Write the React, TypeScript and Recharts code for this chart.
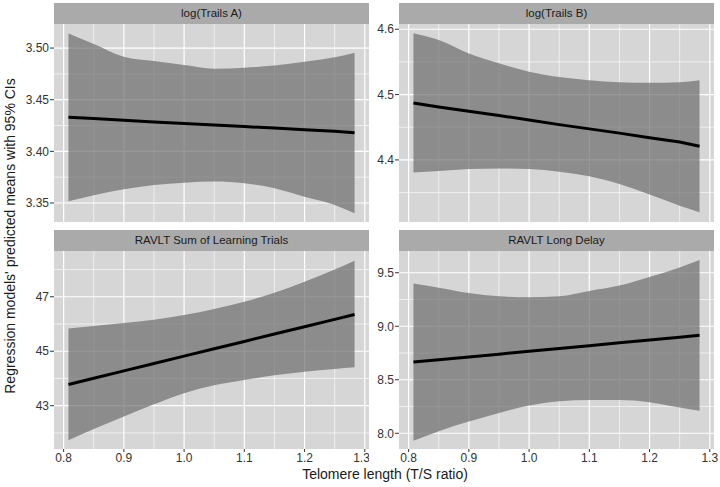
import React from "react";
import {
  ComposedChart,
  Area,
  Line,
  XAxis,
  YAxis,
  CartesianGrid,
} from "recharts";

// telomere length (T/S ratio) sample points along the fitted line
const telomere = [0.808, 0.85, 0.9, 0.95, 1.0, 1.05, 1.1, 1.15, 1.2, 1.25, 1.283];

const trailsAFit = [3.433, 3.4317, 3.430, 3.4285, 3.427, 3.4255, 3.424, 3.4225, 3.421, 3.4195, 3.418];
const trailsALow = [3.3517, 3.3575, 3.3633, 3.3675, 3.3697, 3.3707, 3.369, 3.3643, 3.356, 3.348, 3.340];
const trailsAHigh = [3.514, 3.504, 3.4916, 3.4874, 3.4835, 3.480, 3.481, 3.483, 3.4867, 3.491, 3.4955];

const trailsBFit = [4.487, 4.481, 4.4745, 4.468, 4.461, 4.454, 4.4475, 4.441, 4.434, 4.4275, 4.421];
const trailsBLow = [4.3806, 4.383, 4.386, 4.387, 4.386, 4.382, 4.375, 4.363, 4.347, 4.330, 4.320];
const trailsBHigh = [4.594, 4.5836, 4.563, 4.548, 4.535, 4.527, 4.522, 4.519, 4.518, 4.519, 4.522];

const sumFit = [43.78, 44.01, 44.28, 44.55, 44.82, 45.09, 45.36, 45.63, 45.90, 46.17, 46.35];
const sumLow = [41.73, 42.14, 42.60, 43.05, 43.46, 43.75, 43.94, 44.12, 44.25, 44.35, 44.41];
const sumHigh = [45.83, 45.93, 46.04, 46.16, 46.33, 46.55, 46.82, 47.15, 47.55, 48.00, 48.32];

const delayFit = [8.665, 8.687, 8.713, 8.739, 8.766, 8.792, 8.818, 8.845, 8.871, 8.897, 8.915];
const delayLow = [7.93, 8.02, 8.11, 8.19, 8.26, 8.30, 8.31, 8.31, 8.29, 8.24, 8.21];
const delayHigh = [9.40, 9.36, 9.31, 9.28, 9.27, 9.28, 9.33, 9.38, 9.46, 9.55, 9.62];

const xTicks = [0.8, 0.9, 1.0, 1.1, 1.2, 1.3];
const xMinor = [0.85, 0.95, 1.05, 1.15, 1.25];

const panelTitles = [
  "log(Trails A)",
  "log(Trails B)",
  "RAVLT Sum of Learning Trials",
  "RAVLT Long Delay",
];

const FONT = "'Liberation Sans', Arial, Helvetica, sans-serif";
const PANEL_BG = "#d6d6d6";
const STRIP_BG = "#aaaaaa";

const buildRows = (fit: number[], lo: number[], hi: number[]) =>
  telomere.map((t, i) => ({ t, fit: fit[i], range: [lo[i], hi[i]] }));

type PanelProps = {
  left: number;
  top: number;
  width: number;
  height: number;
  yWidth: number;
  rightPad: number;
  plotTop: number;
  showX: boolean;
  rows: any[];
  yDomain: [number, number];
  yTicks: number[];
  yMinor: number[];
  yFmt: (v: number) => string;
};

const Panel = (p: PanelProps) => {
  const tickStyle = { fill: "#333", fontSize: 12, fontFamily: FONT };
  return (
    <div style={{ position: "absolute", left: p.left, top: p.top }}>
      <ComposedChart
        width={p.width}
        height={p.height}
        data={p.rows}
        margin={{ top: p.plotTop, right: p.rightPad, left: 0, bottom: 0 }}
      >
        <CartesianGrid
          stroke="#ffffff"
          strokeWidth={0.6}
          fill={PANEL_BG}
          fillOpacity={1}
          horizontalValues={p.yMinor}
          verticalValues={xMinor}
        />
        <CartesianGrid
          stroke="#ffffff"
          strokeWidth={1.2}
          verticalValues={xTicks}
          horizontalValues={p.yTicks}
        />
        <XAxis
          dataKey="t"
          type="number"
          domain={[0.784, 1.307]}
          ticks={xTicks}
          tickFormatter={(v: number) => v.toFixed(1)}
          hide={!p.showX}
          height={25}
          axisLine={false}
          tickSize={3}
          tickMargin={1}
          tickLine={{ stroke: "#333" }}
          tick={tickStyle}
          allowDataOverflow
        />
        <YAxis
          type="number"
          domain={p.yDomain}
          ticks={p.yTicks}
          tickFormatter={p.yFmt}
          width={p.yWidth}
          axisLine={false}
          tickSize={4}
          tickMargin={1}
          tickLine={{ stroke: "#333" }}
          tick={tickStyle}
          allowDataOverflow
        />
        <Area
          dataKey="range"
          stroke="none"
          fill="#6c6c6c"
          fillOpacity={0.7}
          type="monotone"
          isAnimationActive={false}
        />
        <Line
          dataKey="fit"
          stroke="#000000"
          strokeWidth={3}
          dot={false}
          type="linear"
          isAnimationActive={false}
        />
      </ComposedChart>
    </div>
  );
};

const Strip = ({ left, top, text }: { left: number; top: number; text: string }) => (
  <div
    style={{
      position: "absolute",
      left,
      top,
      width: 315,
      height: 21,
      background: STRIP_BG,
      color: "#1a1a1a",
      fontFamily: FONT,
      fontSize: 11.5,
      lineHeight: "21px",
      textAlign: "center",
    }}
  >
    {text}
  </div>
);

export default function App() {
  const f2 = (v: number) => v.toFixed(2);
  const f1 = (v: number) => v.toFixed(1);
  const f0 = (v: number) => v.toFixed(0);
  return (
    <div
      style={{
        position: "absolute",
        left: 0,
        top: 0,
        width: 720,
        height: 487,
        background: "#ffffff",
        overflow: "hidden",
      }}
    >
      <Strip left={54} top={3} text={panelTitles[0]} />
      <Strip left={399} top={3} text={panelTitles[1]} />
      <Strip left={54} top={230} text={panelTitles[2]} />
      <Strip left={399} top={230} text={panelTitles[3]} />

      <Panel
        left={0}
        top={0}
        width={369}
        height={222}
        yWidth={54}
        rightPad={0}
        plotTop={24}
        showX={false}
        rows={buildRows(trailsAFit, trailsALow, trailsAHigh)}
        yDomain={[3.3316, 3.5233]}
        yTicks={[3.35, 3.4, 3.45, 3.5]}
        yMinor={[3.375, 3.425, 3.475]}
        yFmt={f2}
      />
      <Panel
        left={369}
        top={0}
        width={351}
        height={222}
        yWidth={30}
        rightPad={6}
        plotTop={24}
        showX={false}
        rows={buildRows(trailsBFit, trailsBLow, trailsBHigh)}
        yDomain={[4.305, 4.608]}
        yTicks={[4.4, 4.5, 4.6]}
        yMinor={[4.35, 4.45, 4.55]}
        yFmt={f1}
      />
      <Panel
        left={0}
        top={227}
        width={369}
        height={247}
        yWidth={54}
        rightPad={0}
        plotTop={24}
        showX={true}
        rows={buildRows(sumFit, sumLow, sumHigh)}
        yDomain={[41.41, 48.68]}
        yTicks={[43, 45, 47]}
        yMinor={[42, 44, 46, 48]}
        yFmt={f0}
      />
      <Panel
        left={369}
        top={227}
        width={351}
        height={247}
        yWidth={30}
        rightPad={6}
        plotTop={24}
        showX={true}
        rows={buildRows(delayFit, delayLow, delayHigh)}
        yDomain={[7.853, 9.703]}
        yTicks={[8.0, 8.5, 9.0, 9.5]}
        yMinor={[8.25, 8.75, 9.25]}
        yFmt={f1}
      />

      <div
        style={{
          position: "absolute",
          left: 10,
          top: 236,
          transform: "translate(-50%, -50%) rotate(-90deg)",
          whiteSpace: "nowrap",
          fontFamily: FONT,
          fontSize: 14,
          color: "#1a1a1a",
        }}
      >
        Regression models' predicted means with 95% CIs
      </div>
      <div
        style={{
          position: "absolute",
          left: 385,
          top: 474,
          transform: "translate(-50%, -50%)",
          whiteSpace: "nowrap",
          fontFamily: FONT,
          fontSize: 14,
          color: "#1a1a1a",
        }}
      >
        Telomere length (T/S ratio)
      </div>
    </div>
  );
}
